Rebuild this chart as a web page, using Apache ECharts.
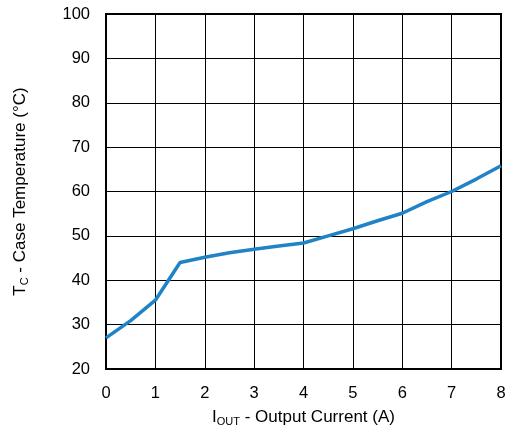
<!DOCTYPE html>
<html><head><meta charset="utf-8">
<script src="https://cdn.jsdelivr.net/npm/echarts@6/dist/echarts.min.js"></script>
<style>html,body{margin:0;padding:0;background:#fff}#c{width:528px;height:433px}</style>
</head><body><div id="c"></div>
<script>
const currentA = [0, 0.5, 1, 1.5, 2, 2.5, 3, 3.5, 4, 4.5, 5, 5.5, 6, 6.5, 7, 7.5, 8];
const caseTempC = [27, 30.9, 35.5, 44, 45.2, 46.2, 47, 47.7, 48.4, 50, 51.6, 53.4, 55.1, 57.7, 60, 62.8, 65.8];
const xTicks = [0, 1, 2, 3, 4, 5, 6, 7, 8];
const yTicks = [20, 30, 40, 50, 60, 70, 80, 90, 100];
const font = 'Liberation Sans, Arial, sans-serif';
const rich = {m: {fontSize: 17, fontFamily: font, color: '#000'}, s: {fontSize: 11, fontFamily: font, color: '#000', verticalAlign: 'bottom', padding: [9,0,0,0]}};
const chart = echarts.init(document.getElementById('c'));
chart.setOption({
  animation: false,
  grid: {left: 106, right: 27, top: 14, bottom: 64, show: true, borderColor: '#000', borderWidth: 2, backgroundColor: 'transparent'},
  xAxis: {
    type: 'value', min: xTicks[0], max: xTicks[xTicks.length-1], interval: 1,
    name: '{m|I}{s|OUT}{m| - Output Current (A)}', nameLocation: 'middle', nameGap: 38,
    nameTextStyle: {rich: rich},
    axisLine: {show: false}, axisTick: {show: false},
    axisLabel: {fontSize: 16.5, fontFamily: font, color: '#000', margin: 16},
    splitLine: {show: true, lineStyle: {color: '#000', width: 1}}
  },
  yAxis: {
    type: 'value', min: yTicks[0], max: yTicks[yTicks.length-1], interval: 10,
    name: '{m|T}{s|C}{m| - Case Temperature (°C)}', nameLocation: 'middle', nameGap: 76, nameRotate: 90,
    nameTextStyle: {rich: rich},
    axisLine: {show: false}, axisTick: {show: false},
    axisLabel: {fontSize: 16.5, fontFamily: font, color: '#000', margin: 16},
    splitLine: {show: true, lineStyle: {color: '#000', width: 1}}
  },
  series: [{
    type: 'line', data: currentA.map((x, i) => [x, caseTempC[i]]),
    showSymbol: false, symbol: 'none', lineStyle: {color: '#1f83c6', width: 3.5}, z: 5
  }]
});
</script></body></html>
